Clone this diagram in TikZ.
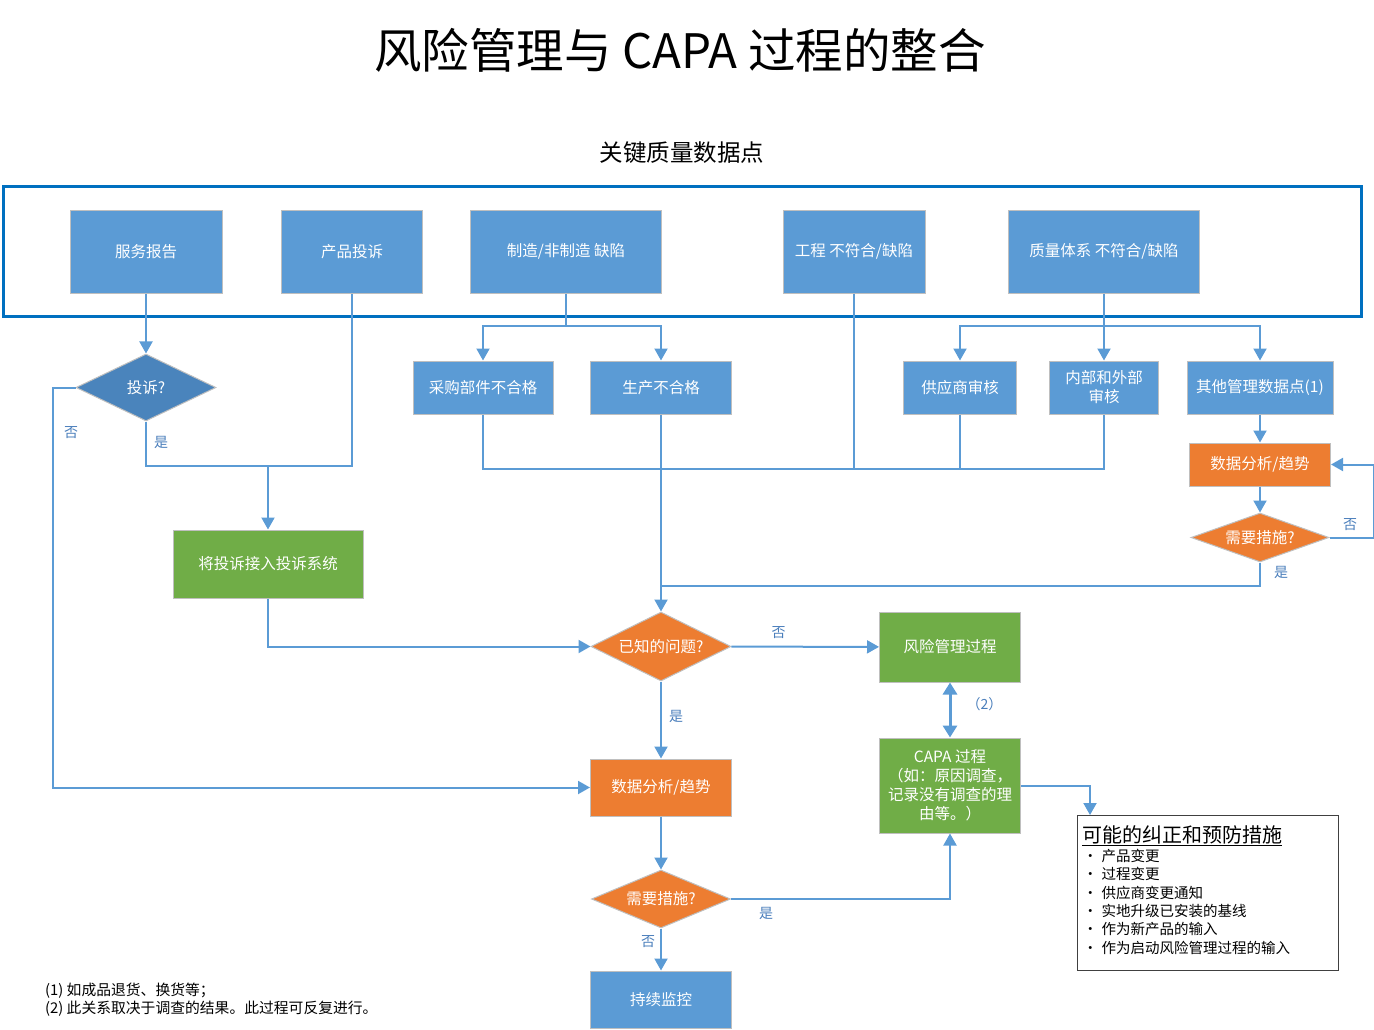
\documentclass[tikz,border=0pt]{standalone}
\usepackage{fontspec}
\setmainfont{Noto Sans CJK SC}
\usetikzlibrary{arrows.meta,shapes.geometric}
\definecolor{boxblue}{HTML}{5B9BD5}
\definecolor{askblue}{HTML}{4A84BC}
\definecolor{boxgreen}{HTML}{70AD47}
\definecolor{boxorange}{HTML}{ED7D31}
\definecolor{boxedge}{HTML}{BFBFBF}
\definecolor{frameblue}{HTML}{0070C0}
\definecolor{lineblue}{HTML}{5B9BD5}
\definecolor{lblblue}{HTML}{4A7EBB}
\tikzset{
  % filled boxes and decisions
  base/.style={draw=boxedge, line width=1pt, text=white, align=center,
    inner sep=2pt, font=\fontsize{15.5}{19}\selectfont},
  blue box/.style={base, fill=boxblue},
  green box/.style={base, fill=boxgreen},
  orange box/.style={base, fill=boxorange},
  decision/.style={base, diamond, aspect=2, inner sep=0pt, fill=#1},
  % connectors
  conn/.style={draw=lineblue, line width=2pt},
  flow/.style={conn, -{Triangle[length=12pt,width=13pt]}},
  both/.style={conn, line width=3pt, {Triangle[length=12pt,width=14pt]}-{Triangle[length=12pt,width=14pt]}},
  lbl/.style={text=lblblue, inner sep=1pt, font=\fontsize{14}{16}\selectfont},
}
\begin{document}
\begin{tikzpicture}[x=1pt,y=-1pt]
\useasboundingbox (0,0) rectangle (1374,1030);

\node[font=\fontsize{47.5}{52}\selectfont] (title) at (680,50) {风险管理与 CAPA 过程的整合};
\node[font=\fontsize{23.5}{27}\selectfont] (subtitle) at (682,153) {关键质量数据点};
\draw[frameblue, line width=3pt] (3,187) rectangle (1361,316);

% quality data points
\node[blue box, minimum width=152, minimum height=83] (svc) at (146,251.5) {服务报告};
\node[blue box, minimum width=141, minimum height=83] (cmp) at (352,251.5) {产品投诉};
\node[blue box, minimum width=191, minimum height=83] (mfg) at (566,251.5) {制造/非制造 缺陷};
\node[blue box, minimum width=142, minimum height=83] (eng) at (854,251.5) {工程 不符合/缺陷};
\node[blue box, minimum width=191, minimum height=83] (qms) at (1104,251.5) {质量体系 不符合/缺陷};

\node[blue box, minimum width=140, minimum height=53] (buy) at (483,387.5) {采购部件不合格};
\node[blue box, minimum width=141, minimum height=53] (prd) at (661,387.5) {生产不合格};
\node[blue box, minimum width=113, minimum height=53] (sup) at (960,387.5) {供应商审核};
\node[blue box, minimum width=109, minimum height=53] (intaud) at (1104,387.5) {内部和外部\\审核};
\node[blue box, minimum width=146, minimum height=53] (other) at (1260,387.5) {其他管理数据点(1)};

\node[decision=askblue, minimum width=140, minimum height=67] (cmpq) at (146,387.5) {投诉?};
\node[green box, minimum width=190, minimum height=68] (cplsys) at (268,564) {将投诉接入投诉系统};

\node[orange box, minimum width=141, minimum height=43] (ana2) at (1260,464.5) {数据分析/趋势};
\node[decision=boxorange, minimum width=138, minimum height=49] (act2) at (1260,537.5) {需要措施?};

\node[decision=boxorange, minimum width=140, minimum height=69] (known) at (661,646.5) {已知的问题?};
\node[green box, minimum width=141, minimum height=70] (risk) at (950,647) {风险管理过程};
\node[green box, minimum width=141, minimum height=95] (capa) at (950,785.5) {CAPA 过程\\（如：原因调查，\\记录没有调查的理\\由等。）};
\node[orange box, minimum width=141, minimum height=57] (ana) at (661,787.5) {数据分析/趋势};
\node[decision=boxorange, minimum width=139, minimum height=58] (act) at (661,899) {需要措施?};
\node[blue box, minimum width=141, minimum height=57] (mon) at (661,999.5) {持续监控};

% possible actions
\node[draw=black!75, line width=1pt, fill=white, minimum width=261, minimum height=155,
  anchor=north west, inner sep=0pt] (res) at (1077,815) {};
\node[anchor=west, inner sep=0pt, font=\fontsize{20}{24}\selectfont] (restitle) at (1082,836) {\underline{可能的纠正和预防措施}};
\node[anchor=north west, align=left, inner sep=0pt, font=\fontsize{14.5}{18.3}\selectfont] (reslist) at (1083,849)
  {·\hspace{4pt}产品变更\\·\hspace{4pt}过程变更\\·\hspace{4pt}供应商变更通知\\·\hspace{4pt}实地升级已安装的基线\\·\hspace{4pt}作为新产品的输入\\·\hspace{4pt}作为启动风险管理过程的输入};
\coordinate (resin) at ([xshift=13pt]res.north west);

\node[anchor=north west, align=left, inner sep=0pt, font=\fontsize{14.8}{18}\selectfont] (notes) at (45,983)
  {(1) 如成品退货、换货等；\\(2) 此关系取决于调查的结果。此过程可反复进行。};

% connectors
\coordinate (jcmp) at (268,466);
\coordinate (jmfg) at (566,326);
\coordinate (jqms) at (1104,326);
\draw[flow] (svc) -- (cmpq);
\draw[conn] (cmpq.south) |- (jcmp) -| (cmp.south);
\draw[flow] (jcmp) -- (cplsys);
\draw[flow] (cmpq.west) -- ++(-23,0) |- (ana.west);
\node[lbl] (no1) at (71,433) {否};
\node[lbl] (yes1) at (161,442) {是};

\draw[conn] (mfg) -- (jmfg);
\draw[flow] (jmfg) -| (buy.north);
\draw[flow] (jmfg) -| (prd.north);
\draw[flow] (qms) -- (intaud);
\draw[flow] (jqms) -| (sup.north);
\draw[flow] (jqms) -| (other.north);

\draw[conn] (buy.south) -- (buy.south |- 0,469) -| (intaud.south);
\draw[conn] (eng.south) -- (eng.south |- 0,469);
\draw[conn] (sup.south) -- (sup.south |- 0,469);
\draw[flow] (prd) -- (known);

\draw[flow] (other) -- (ana2);
\draw[flow] (ana2) -- (act2);
\draw[flow] (act2.east) -- ++(44,0) |- (ana2.east);
\node[lbl] (no2) at (1350,525) {否};
\draw[conn] (act2.south) |- (prd.south |- 0,586);
\node[lbl] (yes2) at (1281,572) {是};

\draw[flow] (cplsys.south) |- (known.west);
\draw[flow] (known) -- node[lbl, above=6pt, pos=0.32] {否} (risk);
\draw[flow] (known) -- node[lbl, right=6pt, pos=0.46] {是} (ana);
\draw[both] (risk) -- node[lbl, right=14pt, pos=0.4] {（2）} (capa);
\draw[flow] (ana) -- (act);
\draw[flow] (act.east) -| node[lbl, below=6pt, pos=0.08] {是} (capa.south);
\draw[flow] (act) -- node[lbl, left=4pt, pos=0.3] {否} (mon);
\draw[flow] (capa.east) -| (resin);

\end{tikzpicture}
\end{document}
